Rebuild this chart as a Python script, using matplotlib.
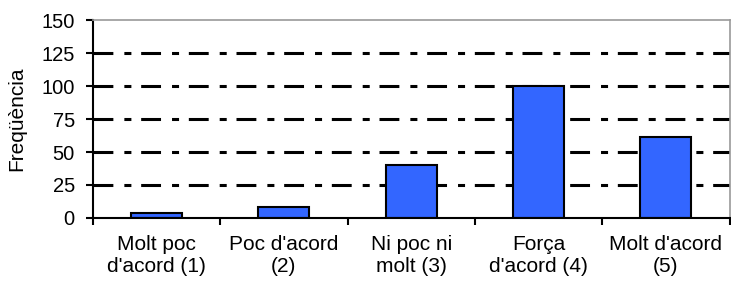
import numpy as np
import matplotlib.pyplot as plt

plt.rcParams['font.family'] = ['Liberation Sans', 'DejaVu Sans']

categories = ["Molt poc\nd'acord (1)", "Poc d'acord\n(2)", "Ni poc ni\nmolt (3)",
              "Força\nd'acord (4)", "Molt d'acord\n(5)"]
values = [4, 8, 40, 100, 61]
yticks = [0, 25, 50, 75, 100, 125, 150]


def main():
    fig = plt.figure(figsize=(7.31, 2.89), dpi=100)
    ax = fig.add_axes([0.127, 0.2457, 0.871, 0.685])

    x = np.arange(len(values))
    for t in yticks[1:-1]:
        ax.axhline(t, color='black', lw=2.2, dashes=(6.5, 3.6, 2.3, 3.2), zorder=1)
    ax.bar(x, values, width=0.4, color='#3366FF', edgecolor='black', lw=1.5, zorder=2)

    ax.set_xlim(-0.5, len(values) - 0.5)
    ax.set_ylim(0, 150)
    ax.set_yticks(yticks)
    ax.set_xticks(np.arange(len(values) + 1) - 0.5)
    ax.set_xticklabels([])
    ax.set_xticks(x, minor=True)
    ax.set_xticklabels(categories, minor=True, fontsize=15, linespacing=1.2)
    ax.tick_params(axis='x', which='minor', length=0, pad=12)
    ax.tick_params(axis='x', which='major', length=5, width=1.5, direction='out')
    ax.tick_params(axis='y', length=5, width=1.5, labelsize=14.5, pad=8)
    ax.set_ylabel("Freqüència", fontsize=15, labelpad=11)

    for s in ['left', 'bottom']:
        ax.spines[s].set_linewidth(1.5)
        ax.spines[s].set_color('black')
    for s in ['top', 'right']:
        ax.spines[s].set_linewidth(1.2)
        ax.spines[s].set_color('#999999')

    fig.savefig('out.png', dpi=100)


if __name__ == "__main__":
    main()
